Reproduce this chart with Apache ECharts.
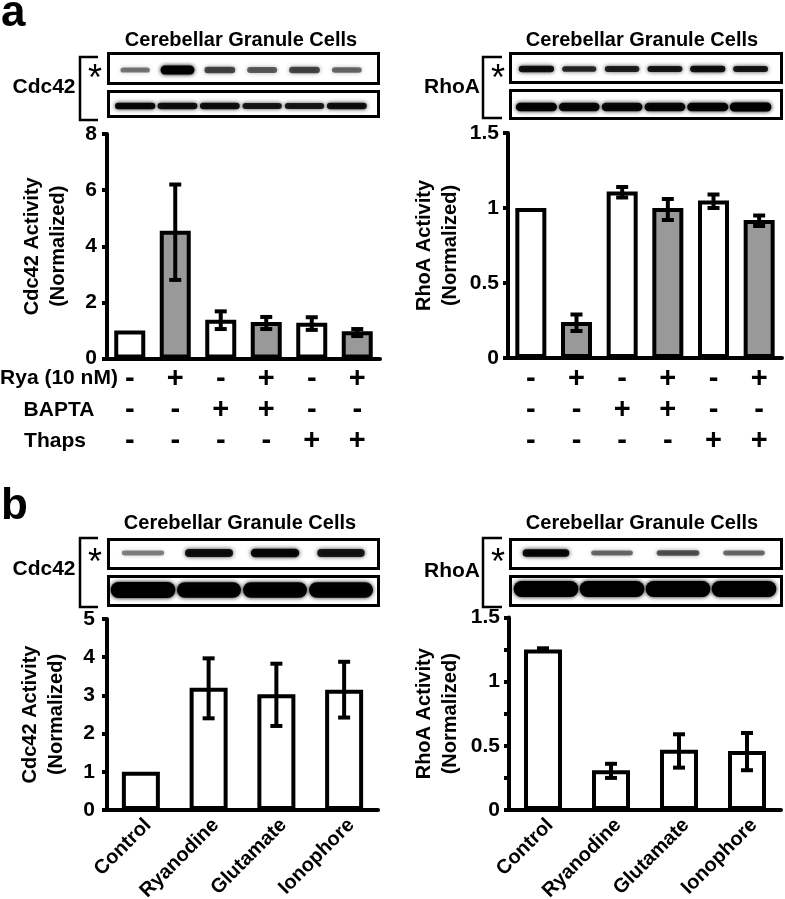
<!DOCTYPE html>
<html><head><meta charset="utf-8">
<script src="https://cdn.jsdelivr.net/npm/echarts@6/dist/echarts.min.js"></script>
<style>html,body{margin:0;padding:0;background:#fff}#c{width:785px;height:899px}</style>
</head><body><div id="c"></div>
<script>
// ---------------- data ----------------
const ryaSigns   = ['-','+','-','+','-','+'];
const baptaSigns = ['-','-','+','+','-','-'];
const thapsSigns = ['-','-','-','-','+','+'];
const rowLabelsA = ['Rya (10 nM)','BAPTA','Thaps'];

const cdc42A     = [1.0, 4.55, 1.38, 1.30, 1.27, 0.97];
const cdc42ALow  = [null, 2.80, 1.05, 1.05, 1.02, 0.80];
const cdc42AHigh = [null, 6.20, 1.68, 1.48, 1.47, 1.05];
const cdc42ATicks = [0, 2, 4, 6, 8];

const rhoAvals   = [1.0, 0.24, 1.11, 1.00, 1.05, 0.92];
const rhoALow    = [null, 0.18, 1.07, 0.92, 1.00, 0.88];
const rhoAHigh   = [null, 0.29, 1.14, 1.06, 1.09, 0.95];
const rhoATicks  = [0, 0.5, 1, 1.5];

const catsB      = ['Control','Ryanodine','Glutamate','Ionophore'];
const cdc42B     = [1.0, 3.20, 3.03, 3.15];
const cdc42BLow  = [null, 2.40, 2.20, 2.42];
const cdc42BHigh = [null, 3.97, 3.83, 3.88];
const cdc42BTicks = [0, 1, 2, 3, 4, 5];

const rhoB       = [1.25, 0.31, 0.47, 0.46];
const rhoBLow    = [1.25, 0.25, 0.33, 0.31];
const rhoBHigh   = [1.26, 0.36, 0.59, 0.60];
const rhoBTicks  = [0, 0.5, 1, 1.5];

// western blot band intensities (0..1)
const blotCdcAActive = [0.35, 1.0, 0.55, 0.45, 0.55, 0.40];
const blotCdcATotal  = [0.90, 0.85, 0.85, 0.80, 0.80, 0.85];
const blotRhoAActive = [0.85, 0.70, 0.75, 0.80, 0.85, 0.80];
const blotRhoATotal  = [0.95, 0.90, 0.90, 0.90, 0.95, 1.00];
const blotCdcBActive = [0.30, 0.85, 0.90, 0.80];
const blotCdcBTotal  = [1.00, 0.95, 0.95, 0.95];
const blotRhoBActive = [0.90, 0.40, 0.50, 0.40];
const blotRhoBTotal  = [1.00, 1.00, 1.00, 1.00];

// ---------------- build ----------------
const FONT = '"Liberation Sans", Arial, sans-serif';
const GRAY = '#999999';
const fillsA = ryaSigns.map(s => s === '+' ? GRAY : '#ffffff');
const signCats = ryaSigns.map((s,i) => s + '\n' + baptaSigns[i] + '\n' + thapsSigns[i]);

const grids = [], xAxes = [], yAxes = [], series = [];

function chartGrid(rect, cats, ticks, yName, nameGap, labelMargin, xLabel, minor) {
  const gi = grids.length;
  grids.push(Object.assign({outerBoundsMode:'none', containLabel:false}, rect));
  xAxes.push({
    gridIndex: gi, type: 'category', data: cats,
    axisLine: {lineStyle: {color:'#000', width:4}},
    axisTick: {show:false},
    axisLabel: xLabel,
    splitLine: {show:false}
  });
  const step = ticks[1] - ticks[0];
  yAxes.push({
    gridIndex: gi, type: 'value', min: ticks[0], max: ticks[ticks.length-1], interval: step,
    name: yName, nameLocation: 'middle', nameGap: nameGap, nameRotate: 90,
    nameTextStyle: {color:'#000', fontFamily:FONT, fontWeight:'bold', fontSize:20, lineHeight:26},
    axisLine: {show:true, lineStyle:{color:'#000', width:4}},
    axisTick: {show:true, inside:false, length:5, lineStyle:{color:'#000', width:4}},
    minorTick: minor ? {show:true, splitNumber:2, length:5, lineStyle:{color:'#000', width:4}} : {show:false},
    axisLabel: {color:'#000', fontFamily:FONT, fontWeight:'bold', fontSize:21, margin:labelMargin},
    splitLine: {show:false}
  });
  return gi;
}

function barSeries(gi, vals, fills, barW) {
  series.push({
    type:'bar', xAxisIndex:gi, yAxisIndex:gi, barWidth:barW, silent:true,
    itemStyle:{borderColor:'#000', borderWidth:4},
    data: vals.map((v,i) => ({value:v, itemStyle:{color:fills[i], borderColor:'#000', borderWidth:4}}))
  });
}

function errSeries(gi, lo, hi, capHalf) {
  const d = [];
  lo.forEach((l,i) => { if (l != null) d.push([i, l, hi[i]]); });
  series.push({
    type:'custom', xAxisIndex:gi, yAxisIndex:gi, z:5, silent:true, data:d,
    encode:{x:0, y:[1,2]},
    renderItem(p, api) {
      const x = api.value(0);
      const a = api.coord([x, api.value(1)]);
      const b = api.coord([x, api.value(2)]);
      const st = {stroke:'#000', lineWidth:4};
      return {type:'group', children:[
        {type:'line', shape:{x1:a[0], y1:a[1], x2:b[0], y2:b[1]}, style:st},
        {type:'line', shape:{x1:a[0]-capHalf, y1:a[1], x2:a[0]+capHalf, y2:a[1]}, style:st},
        {type:'line', shape:{x1:b[0]-capHalf, y1:b[1], x2:b[0]+capHalf, y2:b[1]}, style:st}
      ]};
    }
  });
}

function blotRow(rect, vals, bandH, widthFrac) {
  const gi = grids.length;
  grids.push(Object.assign({outerBoundsMode:'none', containLabel:false}, rect));
  xAxes.push({gridIndex:gi, type:'category', data: vals.map((v,i)=>String(i)), show:false});
  yAxes.push({gridIndex:gi, type:'value', min:0, max:1, show:false});
  series.push({
    type:'custom', xAxisIndex:gi, yAxisIndex:gi, silent:true,
    data: vals.map((v,i) => [i, v]),
    renderItem(p, api) {
      const v = api.value(1);
      const c = api.coord([api.value(0), 0.5]);
      const lw = api.size([1, 0])[0];
      const w = lw * widthFrac * (0.8 + 0.2*v);
      const h = bandH * (0.35 + 0.65*v);
      const col = 'rgba(0,0,0,' + (0.2 + 0.8*v).toFixed(2) + ')';
      return {type:'rect', shape:{x:c[0]-w/2, y:c[1]-h/2, width:w, height:h, r:h/2},
              style:{fill:col, shadowBlur:4, shadowColor:col}};
    }
  });
}

// panel a charts
const signLabel = {color:'#000', fontFamily:FONT, fontWeight:'bold', fontSize:29, lineHeight:31, margin:5, interval:0};
const gA1 = chartGrid({left:107, top:134, width:273, height:224.5}, signCats, cdc42ATicks,
  'Cdc42 Activity\n(Normalized)', 36, 10, signLabel, false);
barSeries(gA1, cdc42A, fillsA, 31); errSeries(gA1, cdc42ALow, cdc42AHigh, 6);

const gA2 = chartGrid({left:508, top:133, width:274, height:225}, signCats, rhoATicks,
  'RhoA Activity\n(Normalized)', 45, 9, signLabel, false);
barSeries(gA2, rhoAvals, fillsA, 31); errSeries(gA2, rhoALow, rhoAHigh, 6);

// panel b charts
const rotLabelL = {color:'#000', fontFamily:FONT, fontWeight:'bold', fontSize:20, rotate:45, margin:5, interval:0, verticalAlign:'top'};
const rotLabelR = {color:'#000', fontFamily:FONT, fontWeight:'bold', fontSize:20, rotate:45, margin:5, interval:0, verticalAlign:'top'};
const gB1 = chartGrid({left:107, top:619, width:271, height:191}, catsB, cdc42BTicks,
  'Cdc42 Activity\n(Normalized)', 38, 12, rotLabelL, false);
barSeries(gB1, cdc42B, catsB.map(()=>'#ffffff'), 38); errSeries(gB1, cdc42BLow, cdc42BHigh, 6);

const gB2 = chartGrid({left:509, top:617.5, width:272, height:192.5}, catsB, rhoBTicks,
  'RhoA Activity\n(Normalized)', 46, 9, rotLabelR, true);
barSeries(gB2, rhoB, catsB.map(()=>'#ffffff'), 38); errSeries(gB2, rhoBLow, rhoBHigh, 6);

// blots
blotRow({left:114, top:55, width:254, height:30}, blotCdcAActive, 9, 0.8);
blotRow({left:114, top:91, width:254, height:30}, blotCdcATotal, 7, 0.97);
blotRow({left:515, top:54, width:257, height:30}, blotRhoAActive, 7, 0.85);
blotRow({left:515, top:92, width:257, height:30}, blotRhoATotal, 9, 0.97);
blotRow({left:110, top:538, width:264, height:30}, blotCdcBActive, 9, 0.75);
blotRow({left:110, top:575, width:264, height:30}, blotCdcBTotal, 16, 0.98);
blotRow({left:513, top:538, width:264, height:30}, blotRhoBActive, 8, 0.72);
blotRow({left:513, top:574, width:264, height:30}, blotRhoBTotal, 16, 0.98);

// ---------------- decorations ----------------
const graphic = [];
function txt(x, y, s, size, weight, align) {
  graphic.push({type:'text', x:x, y:y, silent:true, style:{text:s, fontFamily:FONT, fontSize:size,
    fontWeight:weight||'bold', fill:'#000', align:align||'center', verticalAlign:'middle'}});
}
function box(x, y, w, h) {
  graphic.push({type:'rect', silent:true, shape:{x:x, y:y, width:w, height:h},
    style:{fill:'none', stroke:'#000', lineWidth:3}});
}
function bracket(x, y1, y2, x2) {
  graphic.push({type:'polyline', silent:true, shape:{points:[[x2,y1],[x,y1],[x,y2],[x2,y2]]},
    style:{fill:'none', stroke:'#000', lineWidth:2.5}});
}
txt(1, 14, 'a', 44, 'bold', 'left');
txt(1, 507, 'b', 44, 'bold', 'left');
txt(241, 40, 'Cerebellar Granule Cells', 20);
txt(642, 40, 'Cerebellar Granule Cells', 20);
txt(240, 523, 'Cerebellar Granule Cells', 20);
txt(642, 523, 'Cerebellar Granule Cells', 20);
txt(44, 87, 'Cdc42', 21); txt(452, 87, 'RhoA', 21);
txt(44, 569, 'Cdc42', 21); txt(452, 571, 'RhoA', 21);
txt(95, 80, '*', 36, 'normal'); txt(498, 80, '*', 36, 'normal');
txt(95, 564, '*', 36, 'normal'); txt(498, 564, '*', 36, 'normal');
box(108.5, 53.5, 270, 30); box(108.5, 91.5, 270, 25);
box(510.5, 53.5, 271, 29); box(510.5, 90.5, 271, 28);
box(108.5, 539.5, 270, 29); box(108.5, 576.5, 270, 29);
box(510.5, 539.5, 271, 29); box(510.5, 576.5, 271, 29);
bracket(80, 57, 120, 98); bracket(483, 57, 118, 502);
bracket(80, 538, 607, 98); bracket(483, 538, 607, 502);
txt(59, 378, rowLabelsA[0], 21);
txt(59, 410, rowLabelsA[1], 21);
txt(55, 441, rowLabelsA[2], 21);

const chart = echarts.init(document.getElementById('c'), null, {renderer:'canvas'});
chart.setOption({
  animation:false, backgroundColor:'#ffffff',
  grid:grids, xAxis:xAxes, yAxis:yAxes, series:series, graphic:graphic
});
</script></body></html>
